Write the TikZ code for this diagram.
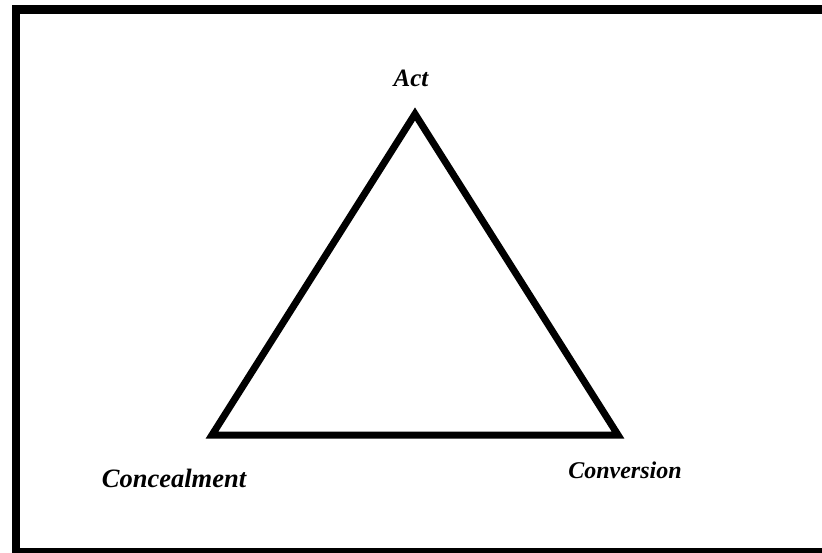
\documentclass[tikz,border=0pt]{standalone}
\usepackage{fontspec}
\setmainfont{Liberation Serif}
\usepackage{xcolor}
\usetikzlibrary{positioning}

\begin{document}
\begin{tikzpicture}[
    x=1pt, y=-1pt,
    frame/.style={draw=black, line width=8.5pt},
    side/.style={draw=black, line width=7pt, line join=miter},
    caption/.style={anchor=base, inner sep=0pt, font=\bfseries\itshape}
]
\useasboundingbox (0,0) rectangle (822,553);
\clip (0,0) rectangle (822,553);
\fill[white] (0,0) rectangle (822,553);

% outer frame
\draw[frame] (16,9.5) rectangle (840,552.5);

% corners of the triangle
\coordinate (act) at (415,114);
\coordinate (concealment) at (212,435);
\coordinate (conversion) at (618,435);

\draw[side] (act) -- (conversion) -- (concealment) -- cycle;

% captions
\node[caption, font=\bfseries\itshape\fontsize{25}{30}\selectfont] (actlabel) at (411,87) {Act};
\node[caption, font=\bfseries\itshape\fontsize{26.5}{31}\selectfont] (conclabel) at (174,487) {Concealment};
\node[caption, font=\bfseries\itshape\fontsize{24}{29}\selectfont] (convlabel) at (625,478) {Conversion};
\end{tikzpicture}
\end{document}
